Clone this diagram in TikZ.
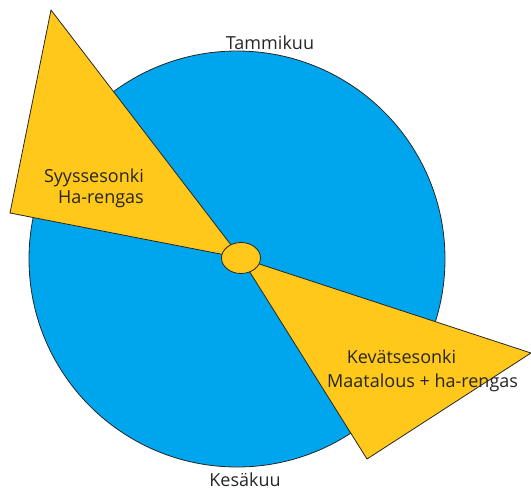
\documentclass[tikz,border=0pt]{standalone}
\usepackage{fontspec}
\setmainfont{Open Sans}
\usepackage{xcolor}
\usepackage{tikz}
\definecolor{yearblue}{RGB}{0,166,237}
\definecolor{seasonyellow}{RGB}{255,200,26}

\begin{document}
\begin{tikzpicture}[x=1pt,y=-1pt,line cap=round,line join=round]
\tikzset{
    rim/.style={draw=black!85, line width=0.8pt},
    season/.style={rim, fill=seasonyellow},
    lbl/.style={font=\fontsize{18}{22}\selectfont, inner sep=0pt, text=black!85},
}
\useasboundingbox (0,0) rectangle (531,490);
% year disc
\coordinate (hub) at (241,258);
\draw[rim, fill=yearblue] (237,259) circle[radius=208];
% autumn wedge
\coordinate (autumnTop) at (51,10);
\coordinate (autumnLeft) at (10,213);
\draw[season] (hub) -- (autumnTop) -- (autumnLeft) -- cycle;
% spring wedge
\coordinate (springRight) at (531,353);
\coordinate (springBottom) at (367,459);
\draw[season] (hub) -- (springRight) -- (springBottom) -- cycle;
% hub
\draw[season] (hub) ellipse[x radius=19.5, y radius=15.5];
% labels
\node[lbl, anchor=base] (jan) at (270,49) {Tammikuu};
\node[lbl, anchor=base] (jun) at (245,486) {Kesäkuu};
\node[lbl, anchor=base east] (autumnA) at (144,182) {Syyssesonki};
\node[lbl, anchor=base east] (autumnB) at (144,203) {Ha-rengas};
\node[lbl, anchor=base] (springA) at (401.5,363) {Kevätsesonki};
\node[lbl, anchor=base west] (springB) at (327,387) {Maatalous + ha-rengas};
\end{tikzpicture}
\end{document}
